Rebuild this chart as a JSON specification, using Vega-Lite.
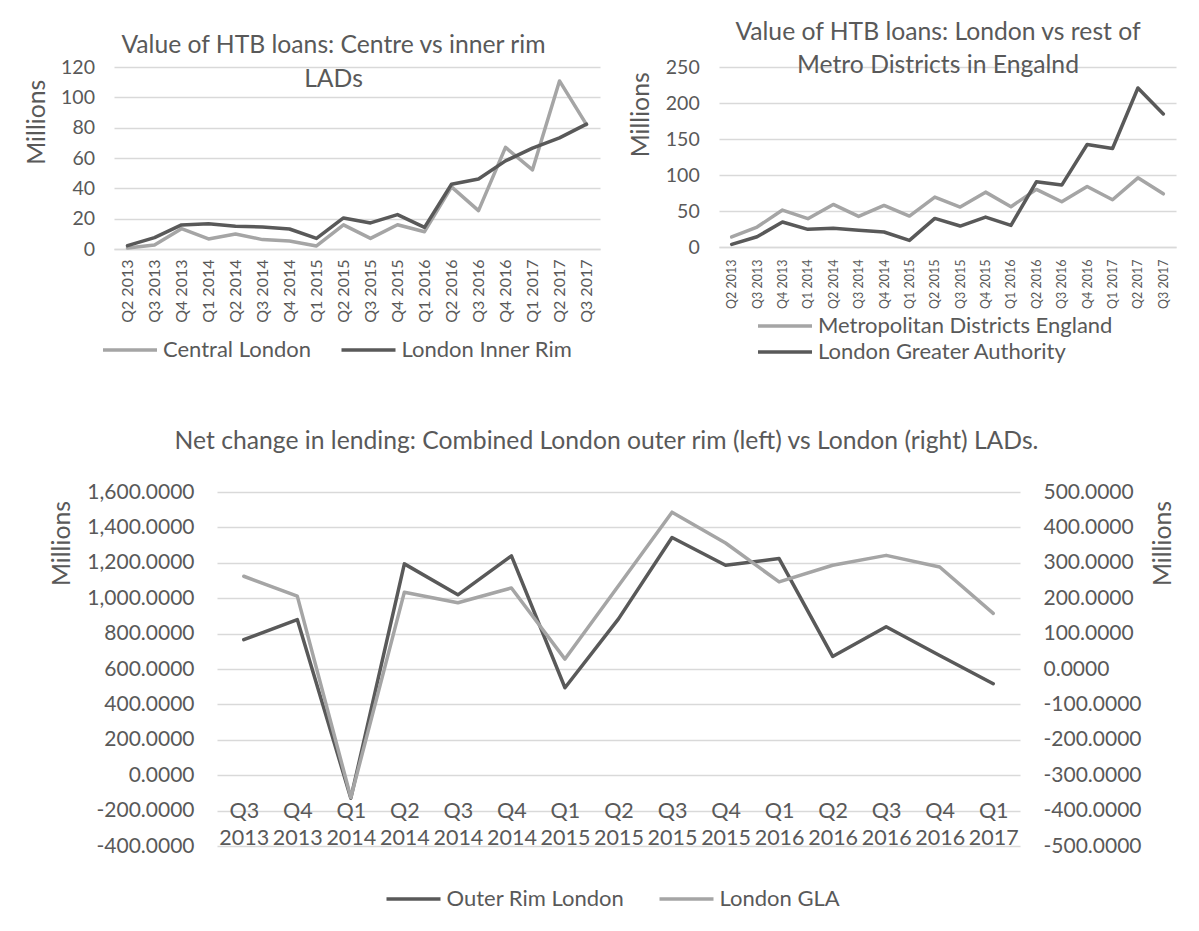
{
  "$schema": "https://vega.github.io/schema/vega-lite/v6.json",
  "background": "white",
  "padding": {"left": 24, "top": 20, "right": 5, "bottom": 5},
  "config": {
    "font": "Lato",
    "view": {"stroke": null},
    "axis": {"labelColor": "#595959", "titleColor": "#595959", "titleFontWeight": "normal", "gridColor": "#d9d9d9", "gridWidth": 1.5, "domain": false, "ticks": false},
    "legend": {"labelColor": "#595959", "labelFontSize": 22, "labelLimit": 500},
    "title": {"color": "#595959", "fontWeight": "normal", "fontSize": 24.7, "frame": "group"}
  },
  "resolve": {"scale": {"color": "independent"}, "legend": {"color": "independent"}},
  "datasets": {
    "p1": [
      {"q": "Q2 2013", "s": "Central London", "v": 0.6}, {"q": "Q3 2013", "s": "Central London", "v": 2.6}, {"q": "Q4 2013", "s": "Central London", "v": 13.4}, {"q": "Q1 2014", "s": "Central London", "v": 6.6}, {"q": "Q2 2014", "s": "Central London", "v": 9.9}, {"q": "Q3 2014", "s": "Central London", "v": 6.2}, {"q": "Q4 2014", "s": "Central London", "v": 5.3}, {"q": "Q1 2015", "s": "Central London", "v": 2.0}, {"q": "Q2 2015", "s": "Central London", "v": 15.9}, {"q": "Q3 2015", "s": "Central London", "v": 7.0}, {"q": "Q4 2015", "s": "Central London", "v": 16.0}, {"q": "Q1 2016", "s": "Central London", "v": 11.4}, {"q": "Q2 2016", "s": "Central London", "v": 41.0}, {"q": "Q3 2016", "s": "Central London", "v": 25.3}, {"q": "Q4 2016", "s": "Central London", "v": 67.0}, {"q": "Q1 2017", "s": "Central London", "v": 52.2}, {"q": "Q2 2017", "s": "Central London", "v": 110.8}, {"q": "Q3 2017", "s": "Central London", "v": 82.0},
      {"q": "Q2 2013", "s": "London Inner Rim", "v": 2.2}, {"q": "Q3 2013", "s": "London Inner Rim", "v": 7.5}, {"q": "Q4 2013", "s": "London Inner Rim", "v": 15.9}, {"q": "Q1 2014", "s": "London Inner Rim", "v": 16.7}, {"q": "Q2 2014", "s": "London Inner Rim", "v": 15.0}, {"q": "Q3 2014", "s": "London Inner Rim", "v": 14.5}, {"q": "Q4 2014", "s": "London Inner Rim", "v": 13.2}, {"q": "Q1 2015", "s": "London Inner Rim", "v": 7.0}, {"q": "Q2 2015", "s": "London Inner Rim", "v": 20.5}, {"q": "Q3 2015", "s": "London Inner Rim", "v": 17.2}, {"q": "Q4 2015", "s": "London Inner Rim", "v": 22.7}, {"q": "Q1 2016", "s": "London Inner Rim", "v": 14.3}, {"q": "Q2 2016", "s": "London Inner Rim", "v": 42.7}, {"q": "Q3 2016", "s": "London Inner Rim", "v": 46.2}, {"q": "Q4 2016", "s": "London Inner Rim", "v": 58.1}, {"q": "Q1 2017", "s": "London Inner Rim", "v": 66.5}, {"q": "Q2 2017", "s": "London Inner Rim", "v": 73.3}, {"q": "Q3 2017", "s": "London Inner Rim", "v": 82.3}
    ],
    "p2": [
      {"q": "Q2 2013", "s": "Metropolitan Districts England", "v": 13.9}, {"q": "Q3 2013", "s": "Metropolitan Districts England", "v": 27.7}, {"q": "Q4 2013", "s": "Metropolitan Districts England", "v": 51.3}, {"q": "Q1 2014", "s": "Metropolitan Districts England", "v": 39.3}, {"q": "Q2 2014", "s": "Metropolitan Districts England", "v": 59.1}, {"q": "Q3 2014", "s": "Metropolitan Districts England", "v": 42.5}, {"q": "Q4 2014", "s": "Metropolitan Districts England", "v": 57.8}, {"q": "Q1 2015", "s": "Metropolitan Districts England", "v": 43.0}, {"q": "Q2 2015", "s": "Metropolitan Districts England", "v": 69.3}, {"q": "Q3 2015", "s": "Metropolitan Districts England", "v": 55.5}, {"q": "Q4 2015", "s": "Metropolitan Districts England", "v": 76.2}, {"q": "Q1 2016", "s": "Metropolitan Districts England", "v": 56.0}, {"q": "Q2 2016", "s": "Metropolitan Districts England", "v": 80.0}, {"q": "Q3 2016", "s": "Metropolitan Districts England", "v": 62.8}, {"q": "Q4 2016", "s": "Metropolitan Districts England", "v": 84.1}, {"q": "Q1 2017", "s": "Metropolitan Districts England", "v": 65.6}, {"q": "Q2 2017", "s": "Metropolitan Districts England", "v": 96.1}, {"q": "Q3 2017", "s": "Metropolitan Districts England", "v": 73.9},
      {"q": "Q2 2013", "s": "London Greater Authority", "v": 3.7}, {"q": "Q3 2013", "s": "London Greater Authority", "v": 14.3}, {"q": "Q4 2013", "s": "London Greater Authority", "v": 34.7}, {"q": "Q1 2014", "s": "London Greater Authority", "v": 24.5}, {"q": "Q2 2014", "s": "London Greater Authority", "v": 25.9}, {"q": "Q3 2014", "s": "London Greater Authority", "v": 23.1}, {"q": "Q4 2014", "s": "London Greater Authority", "v": 20.8}, {"q": "Q1 2015", "s": "London Greater Authority", "v": 9.2}, {"q": "Q2 2015", "s": "London Greater Authority", "v": 39.7}, {"q": "Q3 2015", "s": "London Greater Authority", "v": 29.1}, {"q": "Q4 2015", "s": "London Greater Authority", "v": 41.6}, {"q": "Q1 2016", "s": "London Greater Authority", "v": 30.0}, {"q": "Q2 2016", "s": "London Greater Authority", "v": 90.6}, {"q": "Q3 2016", "s": "London Greater Authority", "v": 86.0}, {"q": "Q4 2016", "s": "London Greater Authority", "v": 142.3}, {"q": "Q1 2017", "s": "London Greater Authority", "v": 136.8}, {"q": "Q2 2017", "s": "London Greater Authority", "v": 220.9}, {"q": "Q3 2017", "s": "London Greater Authority", "v": 184.8}
    ],
    "p3": [
      {"q": "Q3 2013", "s": "Outer Rim London", "v": 766}, {"q": "Q4 2013", "s": "Outer Rim London", "v": 879}, {"q": "Q1 2014", "s": "Outer Rim London", "v": -130}, {"q": "Q2 2014", "s": "Outer Rim London", "v": 1194}, {"q": "Q3 2014", "s": "Outer Rim London", "v": 1019}, {"q": "Q4 2014", "s": "Outer Rim London", "v": 1239}, {"q": "Q1 2015", "s": "Outer Rim London", "v": 494}, {"q": "Q2 2015", "s": "Outer Rim London", "v": 883}, {"q": "Q3 2015", "s": "Outer Rim London", "v": 1343}, {"q": "Q4 2015", "s": "Outer Rim London", "v": 1186}, {"q": "Q1 2016", "s": "Outer Rim London", "v": 1224}, {"q": "Q2 2016", "s": "Outer Rim London", "v": 671}, {"q": "Q3 2016", "s": "Outer Rim London", "v": 839}, {"q": "Q4 2016", "s": "Outer Rim London", "v": 676}, {"q": "Q1 2017", "s": "Outer Rim London", "v": 517},
      {"q": "Q3 2013", "s": "London GLA", "v": 262}, {"q": "Q4 2013", "s": "London GLA", "v": 206}, {"q": "Q1 2014", "s": "London GLA", "v": -363}, {"q": "Q2 2014", "s": "London GLA", "v": 217}, {"q": "Q3 2014", "s": "London GLA", "v": 187}, {"q": "Q4 2014", "s": "London GLA", "v": 229}, {"q": "Q1 2015", "s": "London GLA", "v": 28}, {"q": "Q2 2015", "s": "London GLA", "v": 235}, {"q": "Q3 2015", "s": "London GLA", "v": 443}, {"q": "Q4 2015", "s": "London GLA", "v": 356}, {"q": "Q1 2016", "s": "London GLA", "v": 246}, {"q": "Q2 2016", "s": "London GLA", "v": 293}, {"q": "Q3 2016", "s": "London GLA", "v": 321}, {"q": "Q4 2016", "s": "London GLA", "v": 288}, {"q": "Q1 2017", "s": "London GLA", "v": 157}
    ]
  },
  "vconcat": [
    {
      "spacing": 28,
      "resolve": {"scale": {"color": "independent"}, "legend": {"color": "independent"}},
      "hconcat": [
        {
          "width": 486,
          "height": 182,
          "title": {"text": ["Value of HTB loans: Centre vs inner rim", "LADs"], "lineHeight": 34, "offset": -35, "dx": -23.5},
          "data": {"name": "p1"},
          "encoding": {
            "x": {"field": "q", "type": "ordinal", "scale": {"type": "point", "padding": 0.5, "domain": ["Q2 2013","Q3 2013","Q4 2013","Q1 2014","Q2 2014","Q3 2014","Q4 2014","Q1 2015","Q2 2015","Q3 2015","Q4 2015","Q1 2016","Q2 2016","Q3 2016","Q4 2016","Q1 2017","Q2 2017","Q3 2017"]}, "axis": {"title": null, "labelAngle": 270, "labelFontSize": 16, "labelPadding": 10, "domain": true, "domainColor": "#d9d9d9", "domainWidth": 1.5, "grid": false}},
            "y": {"field": "v", "type": "quantitative", "scale": {"domain": [0, 120], "nice": false, "zero": false}, "axis": {"title": "Millions", "titleY": 54.7, "values": [0, 20, 40, 60, 80, 100, 120], "labelFontSize": 19.5, "titleFontSize": 24.8, "labelPadding": 19.5, "titlePadding": 10.7, "grid": true}},
            "color": {"field": "s", "type": "nominal", "scale": {"domain": ["Central London", "London Inner Rim"], "range": ["#a5a5a5", "#595959"]}, "legend": {"title": null, "orient": "none", "direction": "horizontal", "legendX": 5, "legendY": 272, "symbolType": "M-4,0H4", "symbolSize": 182.25, "symbolStrokeWidth": 3.5, "labelOffset": 22, "columnPadding": 22.5}}
          },
          "layer": [
            {"transform": [{"filter": "datum.s === 'Central London'"}], "mark": {"type": "line", "strokeWidth": 3.5, "strokeJoin": "round", "strokeCap": "round"}},
            {"transform": [{"filter": "datum.s === 'London Inner Rim'"}], "mark": {"type": "line", "strokeWidth": 3.5, "strokeJoin": "round", "strokeCap": "round"}}
          ]
        },
        {
          "width": 457,
          "height": 180,
          "title": {"text": ["Value of HTB loans: London vs rest of", "Metro Districts in Engalnd"], "lineHeight": 33, "offset": -21, "dx": -9.5},
          "data": {"name": "p2"},
          "encoding": {
            "x": {"field": "q", "type": "ordinal", "scale": {"type": "point", "padding": 0.5, "domain": ["Q2 2013","Q3 2013","Q4 2013","Q1 2014","Q2 2014","Q3 2014","Q4 2014","Q1 2015","Q2 2015","Q3 2015","Q4 2015","Q1 2016","Q2 2016","Q3 2016","Q4 2016","Q1 2017","Q2 2017","Q3 2017"]}, "axis": {"title": null, "labelAngle": 270, "labelFontSize": 12.5, "labelPadding": 12, "domain": true, "domainColor": "#d9d9d9", "domainWidth": 1.5, "grid": false}},
            "y": {"field": "v", "type": "quantitative", "scale": {"domain": [0, 250], "nice": false, "zero": false}, "axis": {"title": "Millions", "titleY": 47.3, "values": [0, 50, 100, 150, 200, 250], "labelFontSize": 19.5, "titleFontSize": 24.8, "labelPadding": 19.8, "titlePadding": 12, "grid": true}},
            "color": {"field": "s", "type": "nominal", "scale": {"domain": ["Metropolitan Districts England", "London Greater Authority"], "range": ["#a5a5a5", "#595959"]}, "legend": {"title": null, "orient": "none", "direction": "vertical", "legendX": 55, "legendY": 248, "symbolType": "M-4,0H4", "symbolSize": 182.25, "symbolStrokeWidth": 3.5, "labelOffset": 22, "rowPadding": 4}}
          },
          "layer": [
            {"transform": [{"filter": "datum.s === 'Metropolitan Districts England'"}], "mark": {"type": "line", "strokeWidth": 3.5, "strokeJoin": "round", "strokeCap": "round"}},
            {"transform": [{"filter": "datum.s === 'London Greater Authority'"}], "mark": {"type": "line", "strokeWidth": 3.5, "strokeJoin": "round", "strokeCap": "round"}}
          ]
        }
      ]
    },
    {
      "spacing": 0,
      "bounds": "flush",
      "resolve": {"scale": {"color": "independent"}, "legend": {"color": "independent"}},
      "hconcat": [
        {"width": 103, "height": 10, "data": {"values": []}, "mark": {"type": "point", "opacity": 0}},
        {
          "width": 803,
          "height": 354,
          "title": {"text": "Net change in lending: Combined London outer rim (left) vs London (right) LADs.", "offset": 27, "dx": -12},
          "data": {"name": "p3"},
          "encoding": {
            "x": {"field": "q", "type": "ordinal", "scale": {"type": "point", "padding": 0.5, "domain": ["Q3 2013","Q4 2013","Q1 2014","Q2 2014","Q3 2014","Q4 2014","Q1 2015","Q2 2015","Q3 2015","Q4 2015","Q1 2016","Q2 2016","Q3 2016","Q4 2016","Q1 2017"]}, "axis": {"title": null, "labelAngle": 0, "labelExpr": "split(datum.label, ' ')", "labelLineHeight": 27, "labelFontSize": 21.5, "labelBaseline": "top", "offset": -58, "labelPadding": 12, "zindex": 1, "grid": false}},
            "color": {"field": "s", "type": "nominal", "scale": {"domain": ["Outer Rim London", "London GLA"], "range": ["#595959", "#a5a5a5"]}, "legend": {"title": null, "orient": "none", "direction": "horizontal", "legendX": 185.5, "legendY": 396, "symbolType": "M-4,0H4", "symbolSize": 182.25, "symbolStrokeWidth": 3.5, "labelOffset": 22, "columnPadding": 28}}
          },
          "layer": [
            {"transform": [{"filter": "datum.s === 'Outer Rim London'"}], "mark": {"type": "line", "strokeWidth": 3.5, "strokeJoin": "round", "strokeCap": "round"},
             "encoding": {"y": {"field": "v", "type": "quantitative", "scale": {"domain": [-400, 1600], "nice": false, "zero": false}, "axis": {"orient": "left", "title": "Millions", "titleY": 51, "values": [-400, -200, 0, 200, 400, 600, 800, 1000, 1200, 1400, 1600], "labelExpr": "replace(format(datum.value, ',.4f'), '\u2212', '-')", "labelFontSize": 21, "titleFontSize": 24.8, "labelPadding": 23, "titlePadding": 12, "grid": true}}}},
            {"transform": [{"filter": "datum.s === 'London GLA'"}], "mark": {"type": "line", "strokeWidth": 3.5, "strokeJoin": "round", "strokeCap": "round"},
             "encoding": {"y": {"field": "v", "type": "quantitative", "scale": {"domain": [-500, 500], "nice": false, "zero": false}, "axis": {"orient": "right", "title": "Millions", "titleAngle": 270, "titleBaseline": "top", "titleY": 51, "values": [-500, -400, -300, -200, -100, 0, 100, 200, 300, 400, 500], "labelExpr": "replace(format(datum.value, '.4f'), '\u2212', '-')", "labelFontSize": 21, "titleFontSize": 24.8, "labelPadding": 23, "titlePadding": 9.5, "grid": false}}}}
          ],
          "resolve": {"scale": {"y": "independent"}}
        }
      ]
    }
  ],
  "spacing": 66
}
